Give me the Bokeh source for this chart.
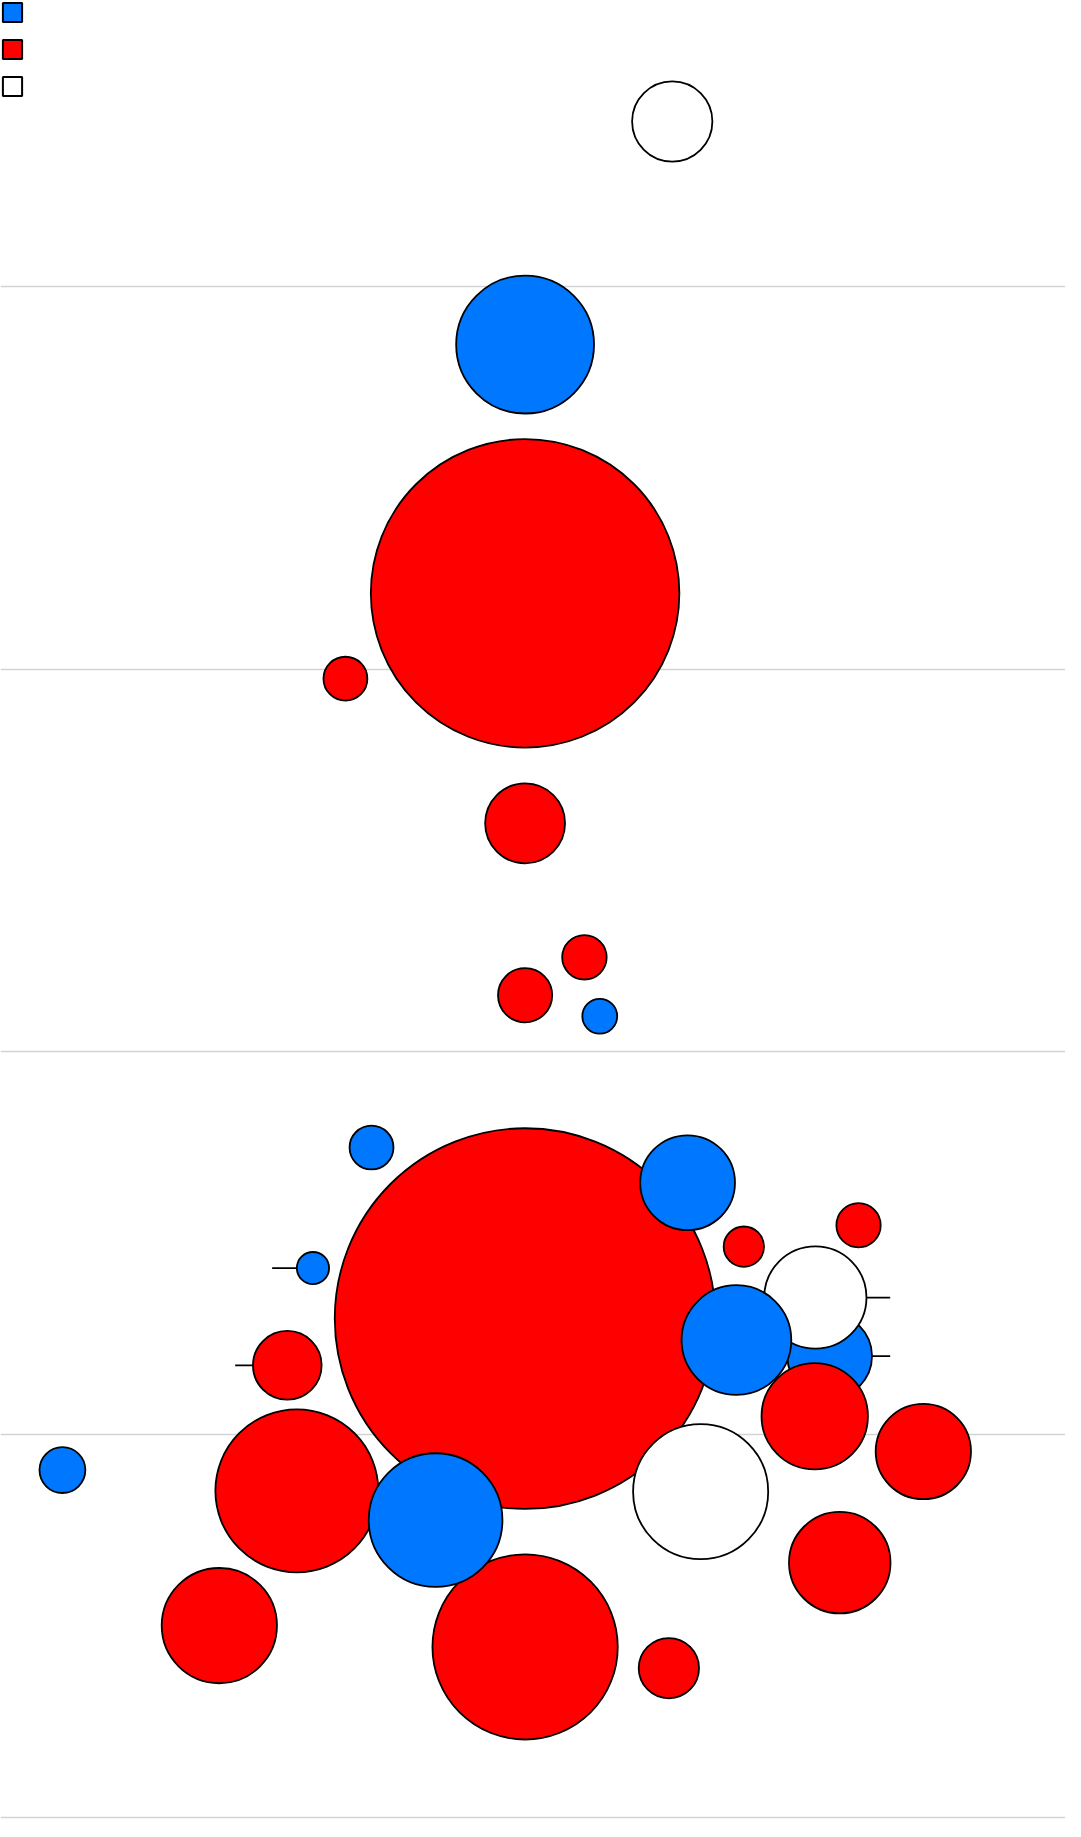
import math
from bokeh.plotting import figure
from bokeh.models import ColumnDataSource, Range1d, FixedTicker, Legend, LegendItem
from bokeh.embed import file_html
from bokeh.resources import INLINE

# ---- data ----
groups = ["blue", "red", "white"]
group_colors = ["#0077FF", "#FF0000", "#FFFFFF"]

x_vals = [0.3845, 0.0, 0.0, -0.4695, 0.0, 0.155, 0.0, 0.1951,
          0.0, -0.4013, 0.4246, 0.5716, 0.8713, -0.5543, -0.6214, 0.7959,
          0.7584, 0.5522, 0.7568, 1.0406, 0.4587, -0.5964, -1.209, 0.0,
          -0.2339, 0.8222, -0.799, 0.3757]
y_vals = [4.431, 3.848, 3.198, 2.975, 2.597, 2.247, 2.148, 2.093,
          1.303, 1.750, 1.658, 1.491, 1.547, 1.435, 1.181, 1.205,
          1.358, 1.247, 1.048, 0.9556, 0.8509, 0.853, 0.9072, 0.4452,
          0.7765, 0.6654, 0.5008, 0.3897]
sizes = [1.100, 3.244, 16.25, 0.329, 1.090, 0.338, 0.501, 0.207,
         24.74, 0.329, 1.533, 0.278, 0.335, 0.177, 0.805, 1.223,
         1.785, 2.056, 1.932, 1.550, 3.115, 4.533, 0.359, 5.861,
         3.052, 1.758, 2.268, 0.621]
group_of = ["white", "blue", "red", "red", "red", "red", "red", "blue",
            "red", "blue", "blue", "red", "red", "blue", "red", "blue",
            "white", "blue", "red", "red", "white", "red", "blue", "red",
            "blue", "red", "red", "red"]
# original x positions of bubbles that were displaced (None = not displaced)
target_x = [None, None, None, None, None, None, None, None,
            None, None, None, None, None, -0.661, -0.7576, 0.954,
            0.954, None, None, None, None, None, None, None,
            None, None, None, None]
y_ticks = [0, 1, 2, 3, 4]

# ---- figure ----
p = figure(width=1065, height=1821, output_backend="svg", toolbar_location=None,
           x_range=Range1d(-1.3708, 1.4121), y_range=Range1d(-0.011, 4.747),
           min_border=0, background_fill_color="white", border_fill_color="white")
p.outline_line_color = None
p.xaxis.visible = False
p.yaxis.visible = False
p.xgrid.visible = False
p.ygrid.ticker = FixedTicker(ticks=y_ticks)
p.ygrid.grid_line_color = "#d3d3d3"
p.ygrid.grid_line_width = 1.5

color_map = dict(zip(groups, group_colors))
radii = [math.sqrt(s) / 10 for s in sizes]
src = ColumnDataSource(dict(x=x_vals, y=y_vals, r=radii,
                            c=[color_map[g] for g in group_of]))

seg_idx = [i for i, t in enumerate(target_x) if t is not None]
seg = ColumnDataSource(dict(x0=[x_vals[i] for i in seg_idx],
                            x1=[target_x[i] for i in seg_idx],
                            y=[y_vals[i] for i in seg_idx]))
p.segment(x0="x0", y0="y", x1="x1", y1="y", source=seg,
          line_color="black", line_width=1.8)

p.circle(x="x", y="y", radius="r", source=src, fill_color="c",
         line_color="black", line_width=1.8)

# legend (swatches only)
nan = float("nan")
items = []
for g, c in zip(groups, group_colors):
    r = p.quad(left=[nan], right=[nan], top=[nan], bottom=[nan], fill_color=c,
               line_color="black", line_width=2)
    items.append(LegendItem(label=" ", renderers=[r], index=0))
legend = Legend(items=items, location="top_left", glyph_width=24, glyph_height=24,
                spacing=13, padding=0, margin=0, label_standoff=0,
                label_width=0, label_height=24, label_text_font_size="10px",
                background_fill_alpha=0, border_line_color=None)
p.add_layout(legend)

open("out.html", "w").write(file_html(p, INLINE))
